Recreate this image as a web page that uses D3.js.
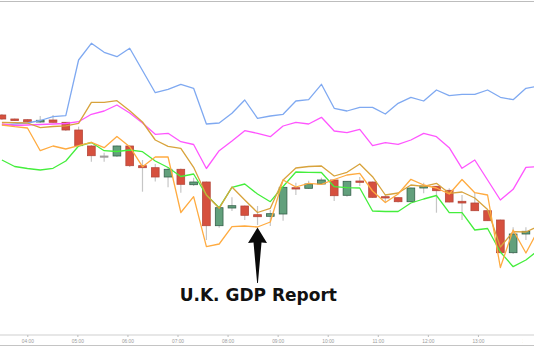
<!DOCTYPE html>
<html><head><meta charset="utf-8">
<script src="https://cdn.jsdelivr.net/npm/d3@7"></script>
<style>html,body{margin:0;padding:0;background:#fff;overflow:hidden}</style>
</head><body>
<svg id="chart" width="534" height="361"></svg>
<script>
// 15-minute slots (GMT)
const times = ["03:30","03:45","04:00","04:15","04:30","04:45","05:00","05:15","05:30","05:45",
  "06:00","06:15","06:30","06:45","07:00","07:15","07:30","07:45","08:00","08:15",
  "08:30","08:45","09:00","09:15","09:30","09:45","10:00","10:15","10:30","10:45",
  "11:00","11:15","11:30","11:45","12:00","12:15","12:30","12:45","13:00","13:15",
  "13:30","13:45","14:00"];

// candle OHLC (one per slot, last slot has no candle)
const opens  = [1.28850,1.28810,1.28803,1.28780,1.28800,1.28777,1.28700,1.28540,1.28440,1.28440,
  1.28540,1.28343,1.28323,1.28230,1.28307,1.28153,1.28180,1.27743,1.27920,1.27940,
  1.27853,1.27837,1.27860,1.28123,1.28117,1.28160,1.28200,1.28047,1.28190,1.28180,
  1.28033,1.28023,1.27983,1.28120,1.28137,1.28097,1.27987,1.27970,1.27893,1.27800,
  1.27473,1.27660];
const highs  = [1.28860,1.28815,1.28810,1.28840,1.28850,1.28780,1.28733,1.28550,1.28473,1.28545,
  1.28545,1.28400,1.28360,1.28330,1.28315,1.28223,1.28185,1.27930,1.28027,1.27945,
  1.27940,1.27900,1.28130,1.28173,1.28193,1.28223,1.28205,1.28190,1.28230,1.28185,
  1.28060,1.28025,1.28125,1.28173,1.28140,1.28117,1.28050,1.28070,1.27895,1.27805,
  1.27727,1.27727];
const lows   = [1.28800,1.28790,1.28775,1.28770,1.28770,1.28690,1.28535,1.28383,1.28383,1.28430,
  1.28330,1.28083,1.28185,1.28127,1.28073,1.28140,1.27600,1.27723,1.27890,1.27800,
  1.27750,1.27740,1.27793,1.28050,1.28110,1.28155,1.27990,1.28033,1.28140,1.28020,
  1.27980,1.27975,1.27980,1.28067,1.27873,1.27975,1.27800,1.27890,1.27790,1.27470,
  1.27460,1.27600];
const closes = [1.28810,1.28795,1.28783,1.28797,1.28777,1.28700,1.28543,1.28443,1.28440,1.28540,
  1.28343,1.28323,1.28230,1.28307,1.28157,1.28180,1.27743,1.27923,1.27943,1.27847,
  1.27833,1.27863,1.28127,1.28110,1.28160,1.28200,1.28043,1.28187,1.28177,1.28027,
  1.28020,1.27983,1.28120,1.28140,1.28093,1.27980,1.27970,1.27893,1.27793,1.27473,
  1.27660,1.27687];

// indicator lines (one value per slot)
const blueLine = [1.28750,1.28760,1.28770,1.28795,1.28833,1.28843,1.29400,1.29567,1.29477,1.29433,
  1.29517,1.29295,1.29073,1.29107,1.29157,1.29117,1.28760,1.28770,1.28867,1.29000,
  1.28817,1.28840,1.28857,1.28990,1.29003,1.29157,1.28917,1.28890,1.28927,1.28927,
  1.28860,1.28967,1.29027,1.28990,1.29100,1.29043,1.29057,1.29057,1.29100,1.29027,
  1.29003,1.29117,1.29140];
const magentaLine = [1.28760,1.28745,1.28750,1.28755,1.28760,1.28765,1.28783,1.28857,1.28890,1.28950,
  1.28870,1.28770,1.28657,1.28667,1.28583,1.28555,1.28315,1.28493,1.28590,1.28693,
  1.28667,1.28633,1.28740,1.28777,1.28760,1.28827,1.28690,1.28673,1.28707,1.28543,
  1.28573,1.28557,1.28600,1.28667,1.28633,1.28523,1.28317,1.28400,1.28200,1.28000,
  1.28107,1.28327,1.28333];
const goldLine = [1.28775,1.28773,1.28770,1.28723,1.28735,1.28742,1.28767,1.28977,1.28977,1.28993,
  1.28892,1.28780,1.28600,1.28537,1.28517,1.28327,1.28050,1.27917,1.28130,1.28000,
  1.27875,1.27917,1.28200,1.28320,1.28335,1.28340,1.28240,1.28277,1.28360,1.28233,
  1.28050,1.28070,1.28150,1.28137,1.28167,1.28067,1.28080,1.28020,1.27905,1.27530,
  1.27683,1.27680,1.27740];
const orangeLine = [1.28750,1.28733,1.28720,1.28493,1.28540,1.28510,1.28543,1.28577,1.28523,1.28635,
  1.28533,1.28333,1.28430,1.28430,1.27875,1.28033,1.27533,1.27560,1.27733,1.27740,
  1.27730,1.27780,1.28200,1.28130,1.28167,1.28157,1.28205,1.28250,1.28267,1.28090,
  1.27975,1.28060,1.28207,1.28150,1.28120,1.28060,1.28205,1.28073,1.28050,1.27325,
  1.27700,1.27470,1.27710];
const greenLine = [1.28400,1.28335,1.28315,1.28300,1.28317,1.28390,1.28540,1.28575,1.28493,1.28485,
  1.28500,1.28483,1.28390,1.28325,1.28235,1.28260,1.28050,1.27923,1.28127,1.28160,
  1.28060,1.27983,1.28135,1.28280,1.28277,1.28275,1.28133,1.28123,1.28120,1.27890,
  1.27885,1.27885,1.27970,1.28010,1.28045,1.27873,1.27873,1.27700,1.27715,1.27480,
  1.27333,1.27400,1.27500];

const annotation = "U.K. GDP Report";
const eventSlot = "08:30";

// ---------------------------------------------------------------
const W = 534, H = 361, axisY = 335;
const svg = d3.select("#chart");

const x = d3.scalePoint().domain(times).range([1.9, 538.7]);
const y = d3.scaleLinear().domain([1.2665, 1.3000]).range([axisY, 0]);
const tx = d3.scaleTime()
  .domain([new Date(2019,1,11,3,27,17), new Date(2019,1,11,14,7,12)])
  .range([0, W]);

const defs = svg.append("defs");
defs.append("clipPath").attr("id","plot")
  .append("rect").attr("x",0).attr("y",2).attr("width",W).attr("height",axisY-2);
defs.append("clipPath").attr("id","axclip")
  .append("rect").attr("x",-5).attr("y",-5).attr("width",527.5).attr("height",20);

// frame lines
svg.append("line").attr("x1",0).attr("x2",W).attr("y1",1.5).attr("y2",1.5)
  .attr("stroke","#bdbdbd").attr("stroke-width",1.2);
svg.append("line").attr("x1",0).attr("x2",W).attr("y1",345.5).attr("y2",345.5)
  .attr("stroke","#c4c4c4").attr("stroke-width",1);
svg.append("line").attr("x1",0).attr("x2",W).attr("y1",axisY).attr("y2",axisY)
  .attr("stroke","#cfcfcf").attr("stroke-width",1.2);

// axis
const ax = svg.append("g").attr("transform",`translate(0,${axisY})`)
  .attr("clip-path","url(#axclip)")
  .call(d3.axisBottom(tx).ticks(d3.timeHour.every(1)).tickFormat(d3.timeFormat("%H:%M"))
    .tickSize(2).tickPadding(2.5));
ax.select(".domain").remove();
ax.selectAll(".tick line").attr("stroke","#bbb");
ax.selectAll(".tick text").attr("fill","#9a9a9a").attr("font-size","4.8px")
  .attr("font-family","Liberation Sans, Arial, sans-serif");

const plot = svg.append("g").attr("clip-path","url(#plot)");

// candles
const candles = opens.map((o,i)=>({t:times[i],o,h:highs[i],l:lows[i],c:closes[i]}));
const bw = 7.7;
const cg = plot.append("g").selectAll("g").data(candles).join("g");
cg.append("line")
  .attr("x1",d=>x(d.t)).attr("x2",d=>x(d.t))
  .attr("y1",d=>y(d.h)).attr("y2",d=>y(d.l))
  .attr("stroke","#c6c6c6").attr("stroke-width",1.2);
cg.append("rect")
  .attr("x",d=>x(d.t)-bw/2).attr("width",bw)
  .attr("y",d=>y(Math.max(d.o,d.c)))
  .attr("height",d=>Math.max(1.2, Math.abs(y(d.o)-y(d.c))))
  .attr("fill",d=>d.c<d.o?"#d6503e":(d.c>d.o?"#62a07c":"#b0a0a0"))
  .attr("stroke",d=>d.c<d.o?"#b5473a":(d.c>d.o?"#35604a":"#999"))
  .attr("stroke-width",0.8);

// indicator lines
const lineGen = d3.line().x((d,i)=>x(times[i])).y(d=>y(d));
[[blueLine,"#7fa9f1"],[magentaLine,"#ff55ff"],[greenLine,"#44ee3c"],
 [goldLine,"#d8a33c"],[orangeLine,"#ffab40"]].forEach(([vals,col])=>{
  plot.append("path").datum(vals).attr("d",lineGen)
    .attr("fill","none").attr("stroke",col).attr("stroke-width",1.3)
    .attr("stroke-linejoin","round");
});

// annotation arrow under the event candle
const ei = times.indexOf(eventSlot);
const ax0 = x(eventSlot), tipY = y(lows[ei]) + 2.5;
const arrow = [[ax0,tipY],[ax0+9.5,tipY+15.5],[ax0+4,tipY+15],[ax0+0.4,tipY+55.5],
  [ax0-0.4,tipY+55.5],[ax0-4,tipY+15],[ax0-9.5,tipY+15.5]];
svg.append("path").attr("d","M"+arrow.map(p=>p.join(",")).join("L")+"Z").attr("fill","#0a0a0a");

svg.append("text").attr("x",ax0+0.8).attr("y",300.5).attr("text-anchor","middle")
  .attr("font-family","DejaVu Sans, Verdana, sans-serif").attr("font-weight","bold")
  .attr("font-size","17px").attr("fill","#111").text(annotation);
</script>
</body></html>
